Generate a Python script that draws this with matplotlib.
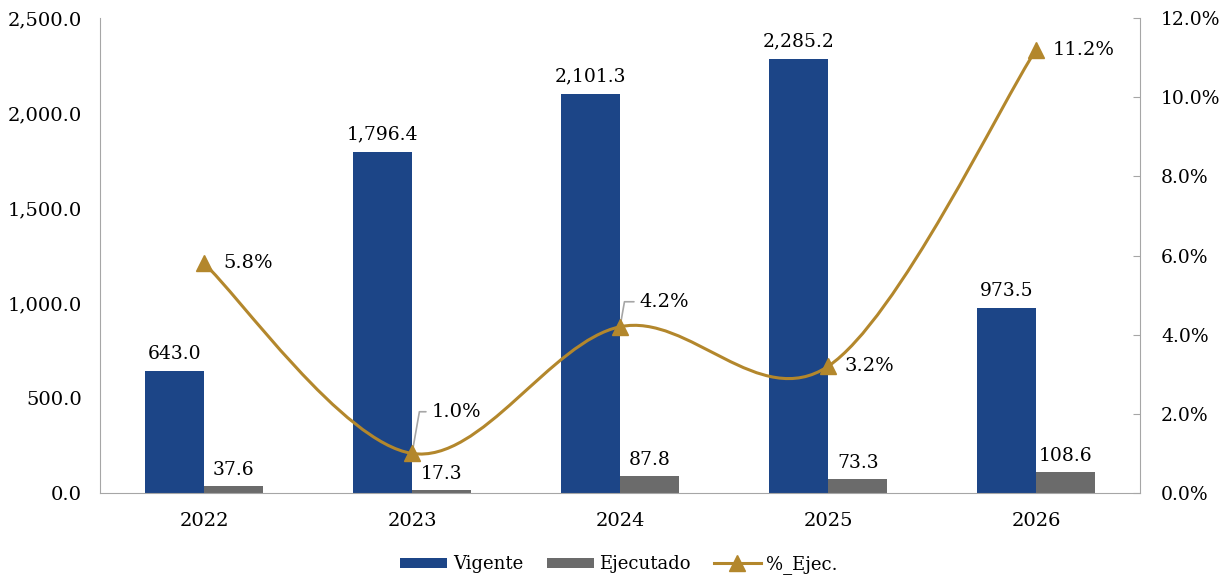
import matplotlib.pyplot as plt
import numpy as np
from matplotlib.path import Path
from matplotlib.patches import PathPatch
from matplotlib.lines import Line2D

years = ['2022', '2023', '2024', '2025', '2026']
vigente = [643.0, 1796.4, 2101.3, 2285.2, 973.5]
ejecutado = [37.6, 17.3, 87.8, 73.3, 108.6]
pct_ejec = [5.8, 1.0, 4.2, 3.2, 11.2]

blue = '#1c4587'
grey = '#6b6b6b'
gold = '#b3872c'
axis_grey = '#a6a6a6'

plt.rcParams['font.family'] = ['DejaVu Serif']

fig = plt.figure(figsize=(12.26, 5.76), dpi=100)
ax = fig.add_axes([0.0816, 0.1441, 0.8483, 0.8246])
ax2 = ax.twinx()

x = np.arange(len(years))
w = 0.285
b1 = ax.bar(x - w / 2, vigente, w, color=blue, label='Vigente', zorder=2)
b2 = ax.bar(x + w / 2, ejecutado, w, color=grey, label='Ejecutado', zorder=2)

for xi, v in zip(x, vigente):
    ax.annotate(f'{v:,.1f}', (xi - w / 2, v), xytext=(0, 6), textcoords='offset points',
                ha='center', va='bottom', fontsize=13.5)
for xi, v in zip(x, ejecutado):
    ax.annotate(f'{v:,.1f}', (xi + w / 2, v), xytext=(0, 5), textcoords='offset points',
                ha='center', va='bottom', fontsize=13.5)

ax.set_xlim(-0.5, len(years) - 0.5)
ax.set_ylim(0, 2500)
ax.set_yticks(np.arange(0, 2501, 500))
ax.set_yticklabels([f'{t:,.1f}' for t in np.arange(0, 2501, 500)])
ax.set_xticks(x)
ax.set_xticklabels(years)

ax2.set_ylim(0, 12)
ax2.set_yticks(np.arange(0, 12.1, 2))
ax2.set_yticklabels([f'{t:.1f}%' for t in np.arange(0, 12.1, 2)])

for a in (ax, ax2):
    for s in a.spines.values():
        s.set_visible(False)
ax.spines['left'].set_visible(True)
ax.spines['left'].set_color(axis_grey)
ax.spines['bottom'].set_visible(True)
ax.spines['bottom'].set_color(axis_grey)
ax2.spines['right'].set_visible(True)
ax2.spines['right'].set_color(axis_grey)
ax.tick_params(axis='y', length=0, labelsize=14, pad=13)
ax.tick_params(axis='x', length=0, labelsize=14, pad=14)
ax2.tick_params(axis='y', direction='in', length=5, color=axis_grey, labelsize=13.5, pad=15)

# smoothed line (catmull-rom style bezier through the points)
px = x.astype(float)
py = np.array(pct_ejec, dtype=float)
verts = [(px[0], py[0])]
codes = [Path.MOVETO]
n = len(px)
for i in range(n - 1):
    p0 = (px[i - 1], py[i - 1]) if i > 0 else (px[i], py[i])
    p3 = (px[i + 2], py[i + 2]) if i + 2 < n else (px[i + 1], py[i + 1])
    c1 = (px[i] + (px[i + 1] - p0[0]) / 6, py[i] + (py[i + 1] - p0[1]) / 6)
    c2 = (px[i + 1] - (p3[0] - px[i]) / 6, py[i + 1] - (p3[1] - py[i]) / 6)
    verts += [c1, c2, (px[i + 1], py[i + 1])]
    codes += [Path.CURVE4] * 3
ax2.add_patch(PathPatch(Path(verts, codes), facecolor='none', edgecolor=gold, lw=2.2, zorder=3))
ax2.plot(px, py, linestyle='none', marker='^', markersize=11, color=gold, zorder=4)

offsets = [(14, 0), (14, 30), (14, 18), (12, 0), (12, 0)]
for i, (xi, v) in enumerate(zip(px, py)):
    dx, dy = offsets[i]
    if dy:
        ax2.annotate(f'{v:.1f}%', (xi, v), xytext=(dx, dy), textcoords='offset points',
                     ha='left', va='center', fontsize=14,
                     arrowprops=dict(arrowstyle='-', color=axis_grey, lw=1.2,
                                     shrinkA=2, shrinkB=4,
                                     connectionstyle='angle,angleA=0,angleB=80,rad=0'))
    else:
        ax2.annotate(f'{v:.1f}%', (xi, v), xytext=(dx, dy), textcoords='offset points',
                     ha='left', va='center', fontsize=14)

handles = [b1, b2, Line2D([], [], color=gold, lw=2.2, marker='^', markersize=11)]
fig.legend(handles, ['Vigente', 'Ejecutado', '%_Ejec.'], loc='lower center', ncol=3,
           frameon=False, fontsize=13, bbox_to_anchor=(0.505, -0.025),
           handlelength=2.6, handleheight=0.5, columnspacing=1.3, handletextpad=0.3)

fig.savefig('out.png', dpi=100)
